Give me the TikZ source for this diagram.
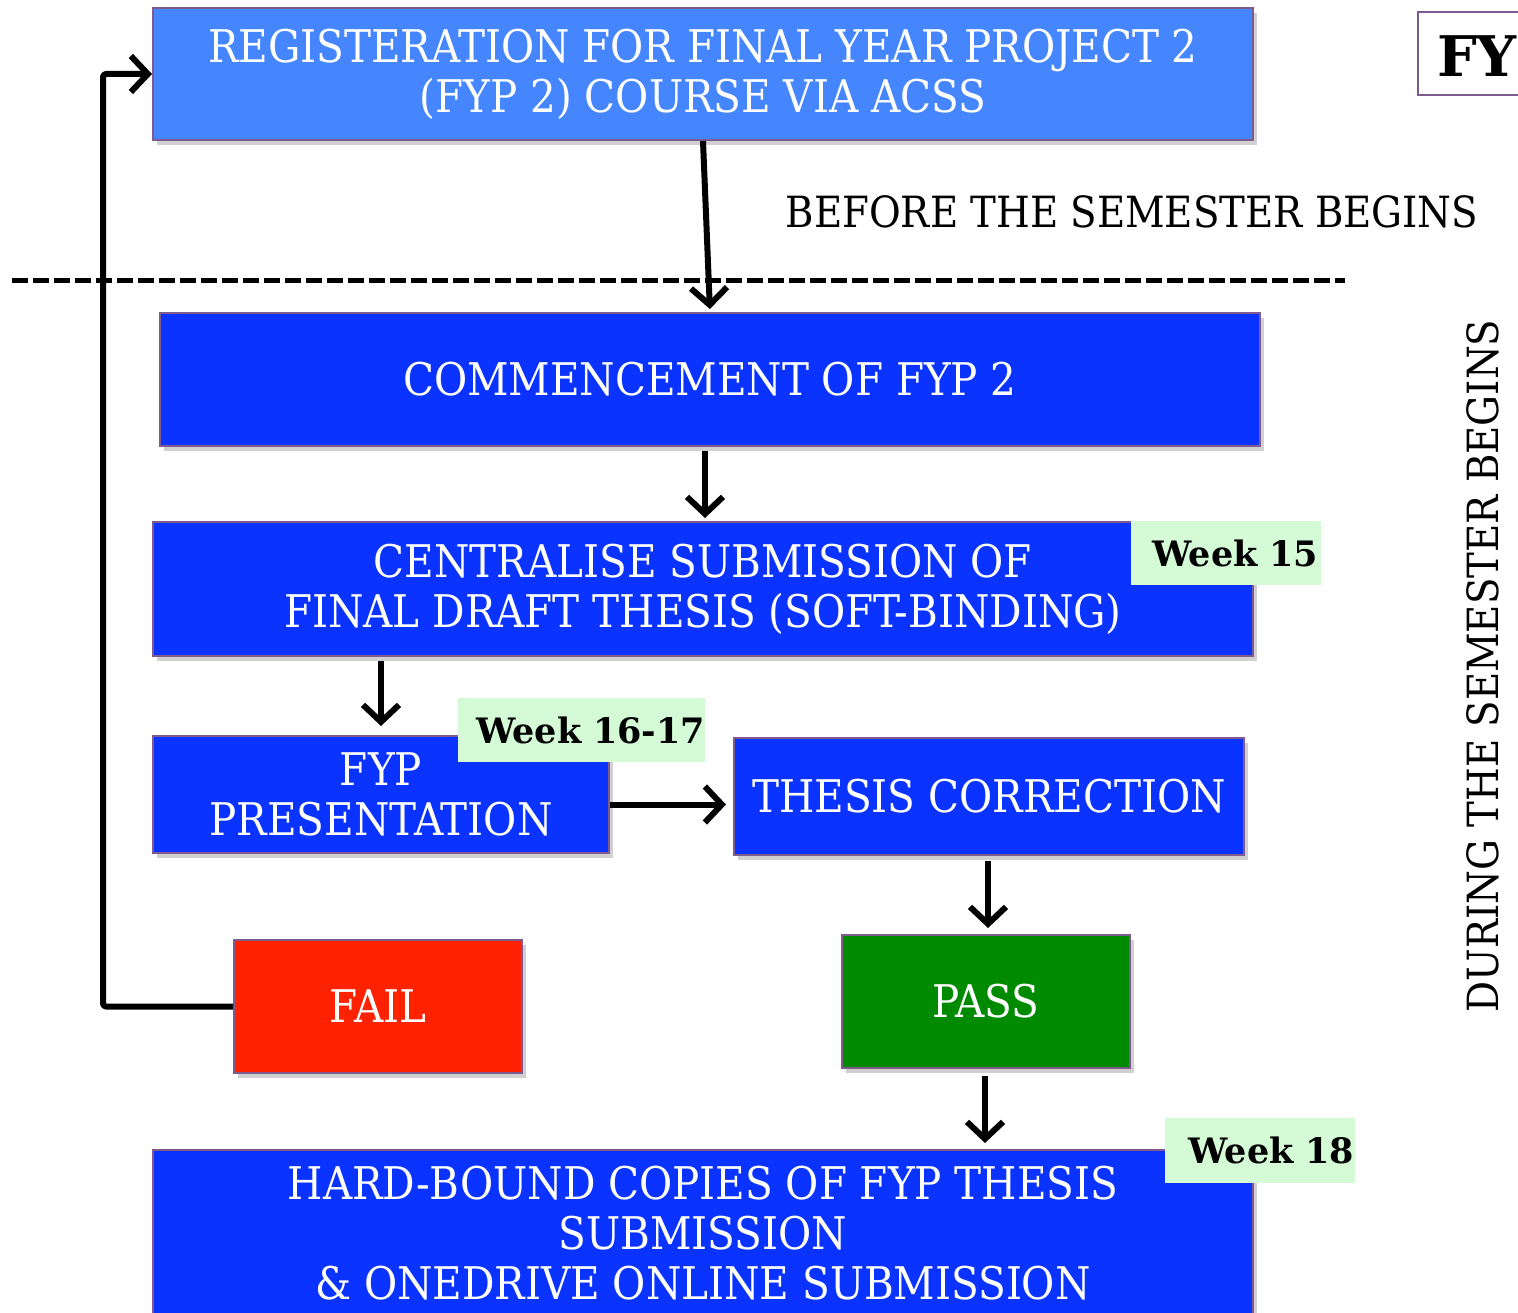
\documentclass[tikz,border=0pt]{standalone}
\usepackage{fontspec}
\setmainfont{DejaVu Serif Condensed}
\newfontfamily\labelfont{DejaVu Serif}
\usetikzlibrary{arrows.meta,shadows,calc}
\definecolor{lightblue}{HTML}{4586FF}
\definecolor{mainblue}{HTML}{0A33FF}
\definecolor{passgreen}{HTML}{008A00}
\definecolor{failred}{HTML}{FF2200}
\definecolor{weekgreen}{HTML}{D4FAD6}
\definecolor{edgepurple}{HTML}{7E5A8E}
\tikzset{
  box/.style={draw=edgepurple, line width=2pt, text=white, align=center, inner sep=0pt,
    font=\fontsize{45}{50}\selectfont,
    drop shadow={shadow xshift=4pt, shadow yshift=-5pt, opacity=0.3, fill=black!60}},
  weeklabel/.style={fill=weekgreen, inner sep=0pt, font=\labelfont\bfseries\fontsize{35}{40}\selectfont, align=right},
  flow/.style={line width=6pt, -{Straight Barb[length=17pt,width=36pt,line width=6pt]}}
}
\begin{document}
\begin{tikzpicture}[x=1pt,y=-1pt]
\clip (0,0) rectangle (1518,1313);
\fill[white] (0,0) rectangle (1518,1313);

% boxes
\node[box, fill=lightblue, minimum width=1100, minimum height=132] (reg) at (703,74)
  {REGISTERATION FOR FINAL YEAR PROJECT 2\\(FYP 2) COURSE VIA ACSS};
\node[box, fill=mainblue, minimum width=1100, minimum height=133] (comm) at (710,379.5)
  {COMMENCEMENT OF FYP 2};
\node[box, fill=mainblue, minimum width=1100, minimum height=134] (cent) at (703,589)
  {CENTRALISE SUBMISSION OF\\FINAL DRAFT THESIS (SOFT-BINDING)};
\node[box, fill=mainblue, minimum width=456, minimum height=117] (pres) at (381,794.5)
  {FYP\\PRESENTATION};
\node[box, fill=mainblue, minimum width=510, minimum height=117] (corr) at (989,796.5)
  {THESIS CORRECTION};
\node[box, fill=passgreen, minimum width=288, minimum height=133] (pass) at (986,1001.5)
  {PASS};
\node[box, fill=failred, minimum width=288, minimum height=133] (fail) at (378,1006.5)
  {FAIL};
\node[box, fill=mainblue, minimum width=1100, minimum height=166] (hard) at (703,1233)
  {HARD-BOUND COPIES OF FYP THESIS\\SUBMISSION\\\& ONEDRIVE ONLINE SUBMISSION};

% week labels
\node[weeklabel, minimum width=190, minimum height=64, text width=184] (w15) at (1226,553) {Week 15};
\node[weeklabel, minimum width=245, minimum height=64, text width=247] (w1617) at (581.5,730) {Week 16-17};
\node[weeklabel, minimum width=190, minimum height=65, text width=188] (w18) at (1260,1150.5) {Week 18};

% texts
\node[font=\fontsize{43}{48}\selectfont, inner sep=0pt] (before) at (1132,212) {BEFORE THE SEMESTER BEGINS};
\node[font=\fontsize{43}{48}\selectfont, inner sep=0pt, rotate=90] (during) at (1483,666) {DURING THE SEMESTER BEGINS};
\node[draw=edgepurple, line width=2pt, minimum width=140, minimum height=83, inner sep=0pt] (fybox) at (1488,53.5) {};
\node[anchor=west, font=\labelfont\bfseries\fontsize{56}{60}\selectfont, inner sep=0pt] (fytext) at (1437,56) {FY};

% dashed separator
\coordinate (dashL) at (12,281);
\coordinate (dashR) at (1345,281);
\draw[line width=5pt, dash pattern=on 16pt off 5pt] (dashL) -- (dashR);

% connectors
\draw[flow, shorten >=3pt] (reg.south) -- (comm.north);
\draw[flow, shorten <=4pt, shorten >=3pt] (comm.south -| 705,0) -- (cent.north -| 705,0);
\draw[flow, shorten <=4pt, shorten >=9pt] (pres.north |- cent.south) -- (pres.north);
\draw[flow, shorten >=7pt] ($(pres.east)+(0,10)$) -- ($(corr.west)+(0,8)$);
\draw[flow, shorten <=5pt, shorten >=6pt] (corr.south -| 988,0) -- (pass.north -| 988,0);
\draw[flow, shorten <=7pt, shorten >=6pt] (pass.south -| 985,0) -- (hard.north -| 985,0);
\draw[flow, line join=round, rounded corners=3pt] (fail.west) -- ++(-130,0) |- (reg.west);
\end{tikzpicture}
\end{document}
